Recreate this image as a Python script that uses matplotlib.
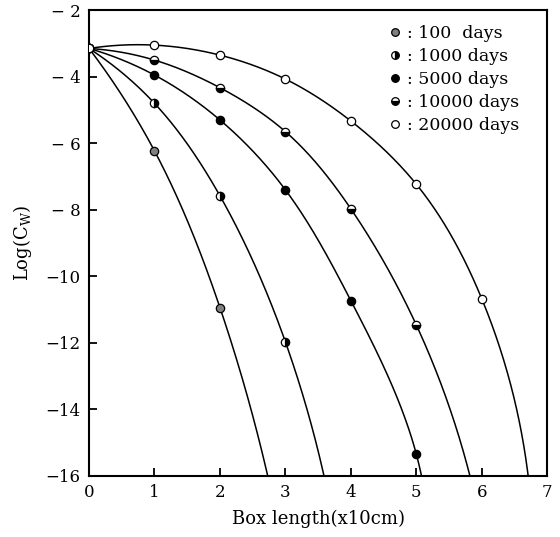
import numpy as np
import matplotlib
matplotlib.use("Agg")
import matplotlib.pyplot as plt
from matplotlib.lines import Line2D

plt.rcParams['font.family'] = ['DejaVu Serif']
plt.rcParams['mathtext.fontset'] = 'dejavuserif'

# Data
series_labels = [": 100  days", ": 1000 days", ": 5000 days", ": 10000 days", ": 20000 days"]
x_100 = [0, 1, 2]
y_100 = [-3.15, -6.23, -10.94]
x_1000 = [0, 1, 2, 3]
y_1000 = [-3.15, -4.80, -7.58, -11.97]
x_5000 = [0, 1, 2, 3, 4, 5]
y_5000 = [-3.15, -3.95, -5.30, -7.40, -10.73, -15.34]
x_10000 = [0, 1, 2, 3, 4, 5]
y_10000 = [-3.15, -3.50, -4.33, -5.65, -7.97, -11.46]
x_20000 = [0, 1, 2, 3, 4, 5, 6]
y_20000 = [-3.15, -3.05, -3.35, -4.07, -5.33, -7.23, -10.67]
# x where each curve meets the lower edge (y = -16)
x_end = [2.73, 3.59, 5.08, 5.82, 6.71]
y_end = -16

xs_all = [x_100, x_1000, x_5000, x_10000, x_20000]
ys_all = [y_100, y_1000, y_5000, y_10000, y_20000]

yticks = [-2, -4, -6, -8, -10, -12, -14, -16]
ytick_labels = ["\u2212 2", "\u2212 4", "\u2212 6", "\u2212 8", "\u221210", "\u221212", "\u221214", "\u221216"]
xticks = [0, 1, 2, 3, 4, 5, 6, 7]


def spline(t, y, tn):
    t = np.asarray(t, float); y = np.asarray(y, float)
    n = len(t)
    h = np.diff(t)
    A = np.zeros((n, n)); b = np.zeros(n)
    # parabolic run-out end conditions
    A[0, 0] = 1; A[0, 1] = -1
    A[-1, -1] = 1; A[-1, -2] = -1
    for i in range(1, n - 1):
        A[i, i - 1] = h[i - 1]
        A[i, i] = 2 * (h[i - 1] + h[i])
        A[i, i + 1] = h[i]
        b[i] = 3 * ((y[i + 1] - y[i]) / h[i] - (y[i] - y[i - 1]) / h[i - 1])
    c = np.linalg.solve(A, b)
    out = np.empty_like(tn)
    for k, tv in enumerate(tn):
        i = min(max(np.searchsorted(t, tv) - 1, 0), n - 2)
        d = tv - t[i]
        bi = (y[i + 1] - y[i]) / h[i] - h[i] * (2 * c[i] + c[i + 1]) / 3
        di = (c[i + 1] - c[i]) / (3 * h[i])
        out[k] = y[i] + bi * d + c[i] * d ** 2 + di * d ** 3
    return out


def smooth_curve(xk, yk, sx=65.6, sy=33.3):
    xk = np.asarray(xk, float); yk = np.asarray(yk, float)
    seg = np.hypot(np.diff(xk) * sx, np.diff(yk) * sy)
    t = np.concatenate([[0], np.cumsum(seg)])
    tn = np.linspace(0, t[-1], 600)
    return spline(t, xk, tn), spline(t, yk, tn)


fig = plt.figure(figsize=(5.6, 5.37), dpi=100)
ax = fig.add_axes([0.159, 0.114, 0.818, 0.867])

marker_styles = [
    dict(marker='o', markerfacecolor='#808080', markeredgecolor='black', fillstyle='full'),
    dict(marker='o', markerfacecolor='black', markerfacecoloralt='white', markeredgecolor='black', fillstyle='right'),
    dict(marker='o', markerfacecolor='black', markeredgecolor='black', fillstyle='full'),
    dict(marker='o', markerfacecolor='black', markerfacecoloralt='white', markeredgecolor='black', fillstyle='bottom'),
    dict(marker='o', markerfacecolor='white', markeredgecolor='black', fillstyle='full'),
]

handles = []
for xs, ys, xe, st, lab in zip(xs_all, ys_all, x_end, marker_styles, series_labels):
    kx = list(xs) + [xe]
    ky = list(ys) + [y_end]
    cx, cy = smooth_curve(kx, ky)
    ax.plot(cx, cy, color='black', lw=1.1, zorder=2)
    ax.plot(xs, ys, linestyle='none', markersize=6, markeredgewidth=0.9, zorder=3, **st)
    handles.append(Line2D([], [], linestyle='none', markersize=5.5, markeredgewidth=0.9, label=lab, **st))

ax.set_xlim(0, 7)
ax.set_ylim(-16, -2)
ax.set_xticks(xticks)
ax.set_xticklabels([str(t) for t in xticks], fontsize=12)
ax.set_yticks(yticks)
ax.set_yticklabels(ytick_labels, fontsize=12)
ax.tick_params(direction='in', length=6, width=1.3, top=False, right=False, pad=6)
for s in ax.spines.values():
    s.set_linewidth(1.5)

ax.set_xlabel("Box length(x10cm)", fontsize=13, labelpad=6)
ax.set_ylabel("Log(C$_{\\mathrm{W}}$)", fontsize=13, labelpad=8)

leg = ax.legend(handles=handles, loc='upper right', frameon=False, fontsize=12.5,
                handlelength=0.6, handletextpad=0.4, labelspacing=0.35,
                borderaxespad=0.3, bbox_to_anchor=(0.965, 0.995))

fig.savefig("out.png", dpi=100)
